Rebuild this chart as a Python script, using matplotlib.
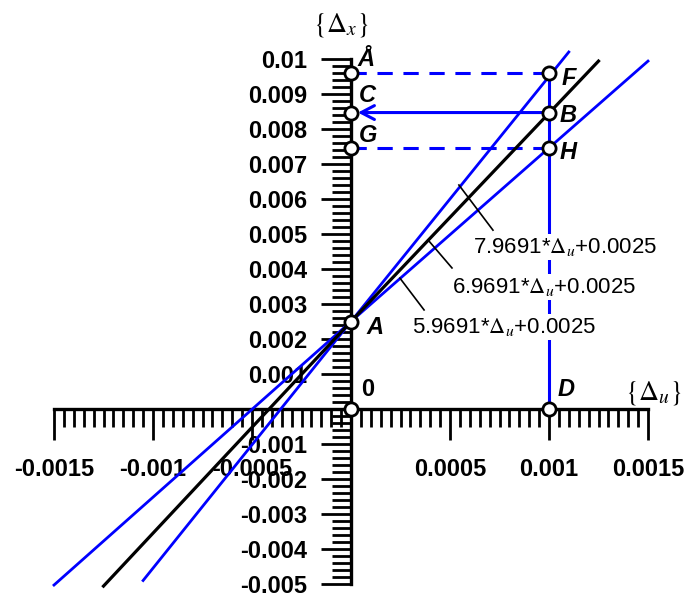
import matplotlib
matplotlib.use("Agg")
import matplotlib.pyplot as plt
from matplotlib.ticker import MultipleLocator

plt.rcParams['font.family'] = ['Liberation Sans', 'DejaVu Sans']
plt.rcParams['mathtext.fontset'] = 'stix'

BLUE = '#0000ff'

# straight lines through A, end points
steep_x = [-0.00105, 0.0, 0.0011]
steep_y = [-0.0049, 0.0025, 0.0102]
mid_x = [-0.00125, 0.0, 0.00125]
mid_y = [-0.00506, 0.0025, 0.00994]
flat_x = [-0.0015, 0.0, 0.0015]
flat_y = [-0.00503, 0.0025, 0.00994]

# marked points
pt_names = ['0', 'A', 'D', 'Å', 'F', 'C', 'B', 'G', 'H']
pt_x = [0.0, 0.0, 0.001, 0.0, 0.001, 0.0, 0.001, 0.0, 0.001]
pt_y = [0.0, 0.0025, 0.0, 0.0096, 0.0096, 0.00847, 0.00847, 0.00745, 0.00745]

# axis ticks
x_ticks = [-0.0015, -0.001, -0.0005, 0.0005, 0.001, 0.0015]
x_labels = ['-0.0015', '-0.001', '-0.0005', '0.0005', '0.001', '0.0015']
y_ticks = [0.01, 0.009, 0.008, 0.007, 0.006, 0.005, 0.004, 0.003, 0.002, 0.001,
           -0.001, -0.002, -0.003, -0.004, -0.005]
y_labels = ['0.01', '0.009', '0.008', '0.007', '0.006', '0.005', '0.004', '0.003',
            '0.002', '0.001', '-0.001', '-0.002', '-0.003', '-0.004', '-0.005']

formulas = [r'7.9691*$\Delta_u$+0.0025', r'6.9691*$\Delta_u$+0.0025',
            r'5.9691*$\Delta_u$+0.0025']

fig = plt.figure(figsize=(6.84, 5.94), dpi=100)
ax = fig.add_axes([54 / 684, 10 / 594, 594 / 684, 525 / 594])
ax.set_xlim(-0.0015, 0.0015)
ax.set_ylim(-0.005, 0.01)

for s in ['top', 'right']:
    ax.spines[s].set_visible(False)
ax.spines['left'].set_position(('data', 0))
ax.spines['bottom'].set_position(('data', 0))
ax.spines['left'].set_linewidth(2.4)
ax.spines['bottom'].set_linewidth(2.4)

ax.set_xticks(x_ticks, x_labels)
ax.set_yticks(y_ticks, y_labels)
ax.xaxis.set_minor_locator(MultipleLocator(0.00005))
ax.yaxis.set_minor_locator(MultipleLocator(0.0002))
ax.tick_params(axis='x', which='major', direction='out', length=22, width=2, pad=13, labelsize=17)
ax.tick_params(axis='x', which='minor', direction='out', length=13, width=2)
ax.tick_params(axis='y', which='major', direction='out', length=21.5, width=2, pad=10, labelsize=17)
ax.tick_params(axis='y', which='minor', direction='out', length=13.5, width=2)
for lbl in ax.get_xticklabels() + ax.get_yticklabels():
    lbl.set_fontweight('bold')

# the three lines
ax.plot(flat_x, flat_y, color=BLUE, lw=2.0, clip_on=False, zorder=3)
ax.plot(steep_x, steep_y, color=BLUE, lw=2.0, clip_on=False, zorder=3)
ax.plot(mid_x, mid_y, color='black', lw=2.3, clip_on=False, zorder=3)

P = dict(zip(pt_names, zip(pt_x, pt_y)))

# construction lines
ax.plot([P['D'][0], P['F'][0]], [P['D'][1], P['F'][1]], color=BLUE, lw=2.2, zorder=2)
ax.plot([P['Å'][0], P['F'][0]], [P['Å'][1], P['F'][1]], color=BLUE, lw=2.2,
        dashes=(5, 3.5), zorder=2)
ax.plot([P['G'][0], P['H'][0]], [P['G'][1], P['H'][1]], color=BLUE, lw=2.2,
        dashes=(5, 3.5), zorder=2)
ax.annotate('', xy=P['C'], xytext=P['B'],
            arrowprops=dict(arrowstyle='->,head_length=0.95,head_width=0.5', color=BLUE,
                            lw=2.2, shrinkA=0, shrinkB=5, mutation_scale=10), zorder=2)

# formula labels with leaders
leaders = [((0.000545, 0.0064), (0.000717, 0.00511)),
           ((0.000389, 0.00483), (0.00051, 0.00403)),
           ((0.000247, 0.00374), (0.000369, 0.00283))]
text_pos = [(0.000616, 0.00463), (0.00051, 0.00349), (0.000308, 0.00234)]
for (p0, p1), (tx, ty), f in zip(leaders, text_pos, formulas):
    ax.plot([p0[0], p1[0]], [p0[1], p1[1]], color='black', lw=1.2, zorder=4)
    ax.text(tx, ty, f, fontsize=16, ha='left', va='center', zorder=5,
            bbox=dict(facecolor='white', edgecolor='none', pad=1.5))

# points
ax.plot(pt_x, pt_y, 'o', ms=9.5, mfc='white', mec='black', mew=2.0,
        clip_on=False, zorder=10, linestyle='none')

offsets = {'0': (12, 14), 'A': (17, -4), 'D': (12, 14), 'Å': (11, 10),
           'F': (14, -4), 'C': (12, 12), 'B': (14, -2), 'G': (12, 9), 'H': (14, -3)}
for n in pt_names:
    ax.annotate(n, xy=P[n], xytext=offsets[n], textcoords='offset points',
                ha='center', va='center', fontsize=17, fontweight='bold',
                fontstyle='normal' if n == '0' else 'italic', zorder=11)

# axis names
ax.text(-0.0000505, 0.01097, r'$\{\Delta_x\}$', fontsize=20, ha='center', va='center',
        clip_on=False)
ax.text(0.00153, 0.00046, r'$\{\Delta_u\}$', fontsize=20, ha='center', va='center',
        clip_on=False)

fig.savefig('out.png', dpi=100)
